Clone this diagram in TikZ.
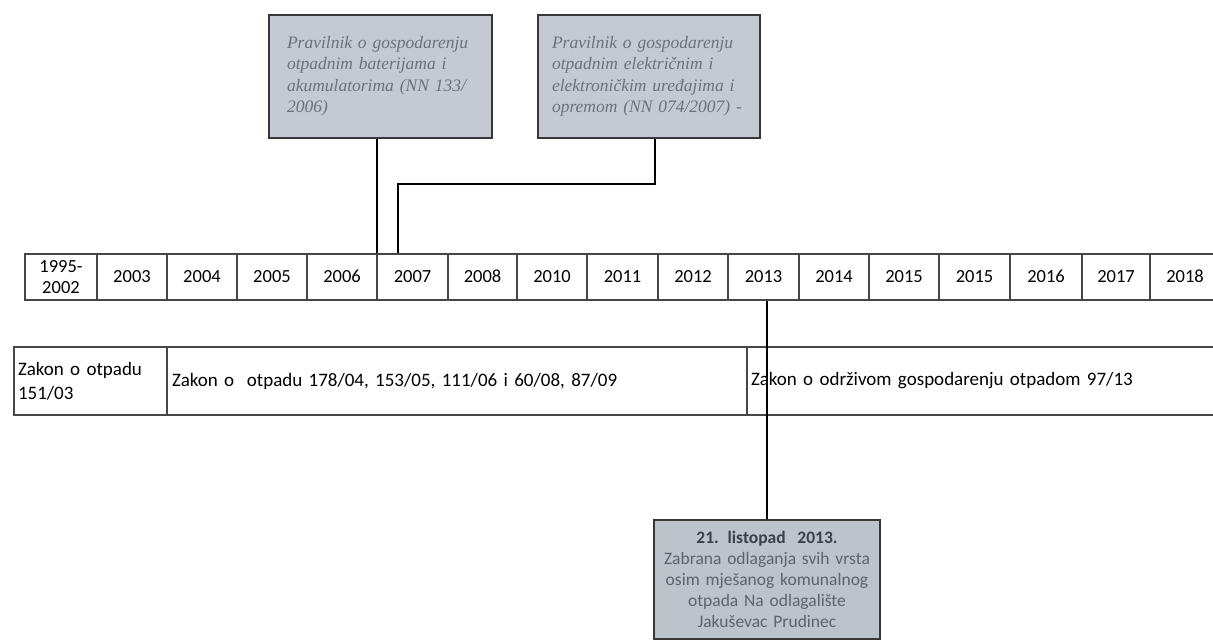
\documentclass[tikz,border=0pt]{standalone}
\usepackage{fontspec}
\setmainfont{Carlito}
\newfontfamily\serifit{Liberation Serif}
\definecolor{gridc}{RGB}{70,70,70}
\definecolor{boxfill}{RGB}{196,202,210}
\definecolor{boxfillb}{RGB}{188,195,203}
\definecolor{boxtext}{RGB}{108,114,124}
\definecolor{boxtextb}{RGB}{92,99,109}
\definecolor{boxtextbold}{RGB}{58,64,72}
\definecolor{boxline}{RGB}{55,55,55}
\tikzset{
  yearbase/.style={draw=gridc, line width=1.2pt, minimum height=46pt, inner sep=0pt,
    font=\fontsize{18.5}{21}\selectfont, align=center},
  yearcell/.style={yearbase, text height=13pt, text depth=3pt},
  lawcell/.style={draw=gridc, line width=1.2pt, minimum height=68pt, inner ysep=0pt,
    font=\fontsize{19}{24}\selectfont, align=left},
  notebox/.style={draw=boxline, line width=1.5pt, fill=boxfill, minimum height=123pt,
    inner ysep=0pt, align=left, text=boxtext,
    font=\serifit\itshape\fontsize{17.5}{21.5}\selectfont},
  eventbox/.style={draw=boxline, line width=1.5pt, fill=boxfillb, minimum height=119pt,
    inner ysep=0pt, inner xsep=4pt, text width=218pt, align=center, text=boxtextb,
    font=\fontsize{17.5}{21}\selectfont},
  conn/.style={draw=black, line width=1.5pt}
}
\begin{document}
\begin{tikzpicture}[x=1pt,y=-1pt]
\path[use as bounding box] (0,0) rectangle (1213,640);
\clip (0,0) rectangle (1213,640);
\fill[white] (0,0) rectangle (1213,640);

% timeline of years
\node[yearbase, minimum width=72pt] (c1995) at (61,277) {1995-\\2002};
\foreach \xl/\xr/\lab/\nm in {97/167/2003/c2003, 167/237/2004/c2004,
  237/307/2005/c2005, 307/377/2006/c2006, 377/448/2007/c2007, 448/517/2008/c2008,
  517/587/2010/c2010, 587/658/2011/c2011, 658/728/2012/c2012, 728/799/2013/c2013,
  799/869/2014/c2014, 869/939/2015/c2015a, 939/1010/2015/c2015b, 1010/1082/2016/c2016,
  1082/1150/2017/c2017, 1150/1220/2018/c2018}{
  \pgfmathsetmacro\cw{\xr-\xl}
  \pgfmathsetmacro\cx{(\xl+\xr)/2}
  \node[yearcell, minimum width=\cw pt] (\nm) at (\cx,277) {\lab};
}

% laws row
\node[lawcell, inner xsep=4pt, text width=145pt] (law1) at (90.5,381) {Zakon o otpadu\\151/03};
\node[lawcell, inner xsep=5pt, text width=570pt] (law2) at (457,381)
  {Zakon o\ \ otpadu 178/04, 153/05, 111/06 i 60/08, 87/09};
\node[lawcell, inner xsep=4pt, text width=475pt] (law3) at (988.5,381)
  {Zakon o održivom gospodarenju otpadom 97/13};

% note boxes
\node[notebox, inner xsep=18pt, text width=187pt] (b1) at (380.5,76.5)
  {Pravilnik o gospodarenju\\otpadnim baterijama i\\akumulatorima (NN 133/\\2006)};
\node[notebox, inner xsep=14pt, text width=194pt] (b2) at (649,76.5)
  {Pravilnik o gospodarenju\\otpadnim električnim i\\elektroničkim uređajima i\\opremom (NN 074/2007) -};
\node[eventbox] (b3) at (767,579.5)
  {{\bfseries\color{boxtextbold}21. listopad\ \ 2013.}\\Zabrana odlaganja svih vrsta\\osim mješanog komunalnog\\otpada Na odlagalište\\Jakuševac Prudinec};

% connectors
\draw[conn] ([xshift=0.6pt]c2007.north west |- b1.south) -- ([xshift=0.6pt]c2007.north west);
\coordinate (bend) at (398,184);
\draw[conn] ([xshift=6pt]b2.south) |- (bend) -- (bend |- c2007.north);
\draw[conn] (b3.north |- c2013.south) -- (b3.north);
\end{tikzpicture}
\end{document}
